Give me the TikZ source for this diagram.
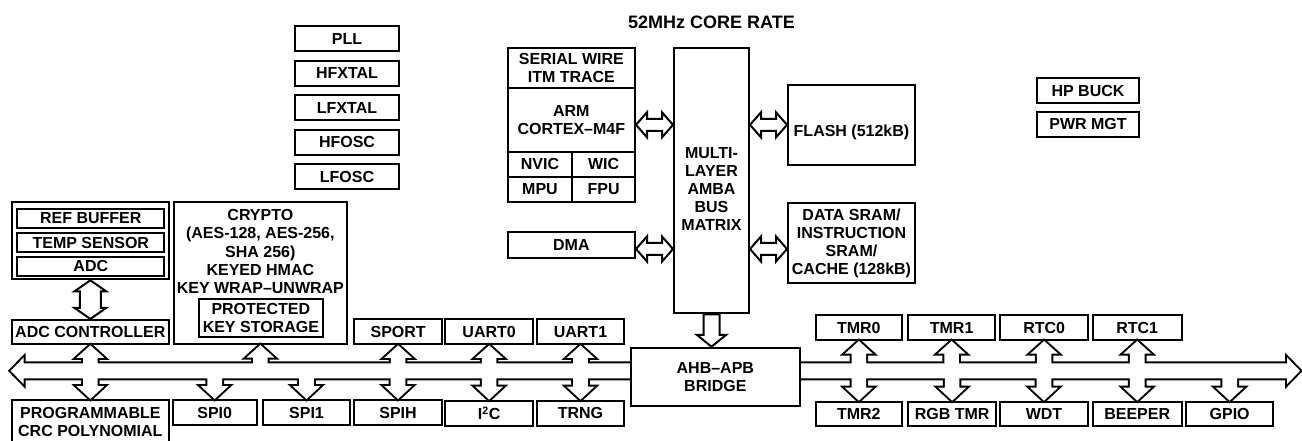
\documentclass[tikz,border=0pt]{standalone}
\usepackage{fontspec}
\setmainfont{Liberation Sans}
\usetikzlibrary{calc}

\tikzset{
  box/.style={draw, fill=white, line width=1.5pt, inner sep=0pt, align=center,
    font=\bfseries\fontsize{12}{13.6}\selectfont},
  txt/.style={inner sep=0pt, align=center, font=\bfseries\fontsize{12}{13.6}\selectfont},
  sz/.style 2 args={minimum width=#1*0.75pt, minimum height=#2*0.75pt},
  fat/.style={draw, fill=white, line width=1.5pt, line join=miter},
}

% fat double arrow, left tip #2, right tip #3, head length #4, head half width #5, shaft half width #6
\newcommand{\dblH}[6][]{%
  \path[#1] let \p1=#2, \p2=#3 in
    (\x1,\y1) -- (\x1+#4,\y1+#5) -- (\x1+#4,\y1+#6) -- (\x2-#4,\y1+#6)
    -- (\x2-#4,\y1+#5) -- (\x2,\y1) -- (\x2-#4,\y1-#5) -- (\x2-#4,\y1-#6)
    -- (\x1+#4,\y1-#6) -- (\x1+#4,\y1-#5) -- cycle;}
% same, vertical: top tip #2, bottom tip #3
\newcommand{\dblV}[6][]{%
  \path[#1] let \p1=#2, \p2=#3 in
    (\x1,\y1) -- (\x1+#5,\y1-#4) -- (\x1+#6,\y1-#4) -- (\x1+#6,\y2+#4)
    -- (\x1+#5,\y2+#4) -- (\x1,\y2) -- (\x1-#5,\y2+#4) -- (\x1-#6,\y2+#4)
    -- (\x1-#6,\y1-#4) -- (\x1-#5,\y1-#4) -- cycle;}
% fat single arrow, vertical: tail #2, tip #3
\newcommand{\oneV}[6][]{%
  \path[#1] let \p1=#2, \p2=#3, \p3=($#3!#4!#2$) in
    (\x2,\y2) -- (\x2+#5,\y3) -- (\x2+#6,\y3) -- (\x2+#6,\y1)
    -- (\x2-#6,\y1) -- (\x2-#6,\y3) -- (\x2-#5,\y3) -- cycle;}
% peripheral bus with its branches
\newcommand{\busparts}[1]{%
  \dblH[#1]{(busL)}{(busR)}{9.75pt}{10pt}{5.6pt}
  \foreach \b in {adcc,crypto,sport,uart0,uart1,tmr0,tmr1,rtc0,rtc1}
    {\oneV[#1]{(\b.south |- busL)}{(\b.south)}{9.5pt}{10.5pt}{5.5pt}}
  \foreach \b in {crc,spi0,spi1,spih,i2c,trng,tmr2,rgbtmr,wdt,beeper,gpio}
    {\oneV[#1]{(\b.north |- busL)}{(\b.north)}{9.75pt}{10.5pt}{5.5pt}}
}

\begin{document}
\begin{tikzpicture}[x=0.75pt,y=-0.75pt]
	\useasboundingbox (0,0) rectangle (1302,441);
	
	% Text Node
	\node[txt, font=\bfseries\fontsize{13.5}{16}\selectfont] (rate) at (711.5,22) {52MHz CORE RATE};
	
	% clocks
	\foreach \n/\t [count=\i from 0] in {pll/PLL,hfxtal/HFXTAL,lfxtal/LFXTAL,hfosc/HFOSC,lfosc/LFOSC}
		\node[box, sz={104}{25}] (\n) at (347,39+34.4*\i) {\t};
	
	% power
	\node[box, sz={102.6}{25}] (hpbuck) at (1088,90.8) {HP BUCK};
	\node[box, sz={102.6}{25}] (pwrmgt) at (1088,124.2) {PWR MGT};
	
	% core
	\node[box, sz={127.3}{154.3}] (cpu) at (571.35,124.85) {};
	\node[box, sz={127.3}{40}] (swd) at (571.35,67.7) {SERIAL WIRE\\ITM TRACE};
	\node[box, sz={127.3}{64}] (arm) at (571.35,119.7) {ARM\\CORTEX–M4F};
	\node[box, sz={64.6}{25}] (nvic) at (540,164.2) {NVIC};
	\node[box, sz={62.7}{25}] (wic) at (603.65,164.2) {WIC};
	\node[box, sz={64.6}{25.3}] (mpu) at (540,189.35) {MPU};
	\node[box, sz={62.7}{25.3}] (fpu) at (603.65,189.35) {FPU};
	\node[box, sz={127.3}{26}] (dma) at (571.35,244.7) {DMA};
	
	% bus matrix and memories
	\node[box, sz={75}{265}] (mat) at (711.5,180.8) {};
	\node[txt] (matlbl) at (711.5,189) {MULTI-\\LAYER\\AMBA\\BUS\\MATRIX};
	\node[box, sz={127}{80}] (flash) at (851.5,125) {};
	\node[txt] (flashlbl) at (851.5,132) {FLASH (512kB)};
	\node[box, sz={127}{80}] (sram) at (851.5,243.3) {DATA SRAM/\\INSTRUCTION\\SRAM/\\CACHE (128kB)};
	
	% analog
	\node[box, sz={157.3}{77.6}] (adcblk) at (90.35,240.5) {};
	\node[box, sz={147}{18.7}] (refbuf) at (90.8,218.35) {REF BUFFER};
	\node[box, sz={147}{18.4}] (tsense) at (90.8,242.5) {TEMP SENSOR};
	\node[box, sz={147}{19.3}] (adc) at (90.8,266.35) {ADC};
	\node[box, sz={157.3}{24.3}] (adcc) at (90.35,332.1) {ADC CONTROLLER};
	
	% crypto
	\node[box, sz={172.7}{142.3}] (crypto) at (260.35,272.85) {};
	\node[txt] (cryptolbl) at (260.35,251.5) {CRYPTO\\(AES-128, AES-256,\\SHA 256)\\KEYED HMAC\\KEY WRAP–UNWRAP};
	\node[box, sz={123.7}{37.4}] (keystore) at (260.85,318) {PROTECTED\\KEY STORAGE};
	
	% peripherals above the bus
	\node[box, sz={88.3}{25}] (sport) at (398.15,331.8) {SPORT};
	\node[box, sz={88.3}{25}] (uart0) at (489.15,331.8) {UART0};
	\node[box, sz={87.6}{25}] (uart1) at (580.5,331.8) {UART1};
	\node[box, sz={85.7}{25}] (tmr0) at (858.85,327.5) {TMR0};
	\node[box, sz={86.7}{25}] (tmr1) at (951.65,327.5) {TMR1};
	\node[box, sz={88.3}{25}] (rtc0) at (1044.15,327.5) {RTC0};
	\node[box, sz={89}{25}] (rtc1) at (1137.2,327.5) {RTC1};
	
	% peripherals below the bus
	\node[box, sz={157.3}{44}] (crc) at (90.35,422) {PROGRAMMABLE\\CRC POLYNOMIAL};
	\node[box, sz={84}{25}] (spi0) at (214.7,412.5) {SPI0};
	\node[box, sz={87}{25}] (spi1) at (306.5,412.5) {SPI1};
	\node[box, sz={88}{25}] (spih) at (398,412.5) {SPIH};
	\node[box, sz={88.3}{25.3}] (i2c) at (489.15,413.3) {I\textsuperscript{2}C};
	\node[box, sz={87.6}{25.3}] (trng) at (580.5,413.3) {TRNG};
	\node[box, sz={85.7}{24.3}] (tmr2) at (858.85,413.85) {TMR2};
	\node[box, sz={87.7}{24.3}] (rgbtmr) at (952.15,413.85) {RGB TMR};
	\node[box, sz={88}{24.3}] (wdt) at (1044,413.85) {WDT};
	\node[box, sz={89}{24.3}] (beeper) at (1137.2,413.85) {BEEPER};
	\node[box, sz={87.3}{24.3}] (gpio) at (1229.65,413.85) {GPIO};
	
	% bus: thick outline first, then white fill, so the branches merge
	\coordinate (busL) at (10.7,370.8);
	\coordinate (busR) at (1300,370.8);
	\busparts{draw, line width=3pt, line join=miter}
	\busparts{fill=white}
	
	\node[box, sz={169.3}{58}] (bridge) at (715.35,376.7) {AHB–APB\\BRIDGE};
	
	% arrows
	\coordinate (dmaarr) at ($(dma.east)+(0,4.3)$);
	\dblH[fat]{(cpu.east)}{(cpu.east -| mat.west)}{8.25pt}{9.4pt}{4.5pt}
	\dblH[fat]{(cpu.east -| mat.east)}{(cpu.east -| flash.west)}{8.25pt}{9.4pt}{4.5pt}
	\dblH[fat]{(dmaarr)}{(dmaarr -| mat.west)}{8.25pt}{9.4pt}{4.5pt}
	\dblH[fat]{(dmaarr -| mat.east)}{(dmaarr -| sram.west)}{8.25pt}{9.4pt}{4.5pt}
	\dblV[fat]{(adcblk.south)}{(adcblk.south |- adcc.north)}{8.25pt}{11.85pt}{7.9pt}
	\oneV[fat]{(mat.south)}{(mat.south |- bridge.north)}{8.8pt}{10.9pt}{6pt}
\end{tikzpicture}
\end{document}
